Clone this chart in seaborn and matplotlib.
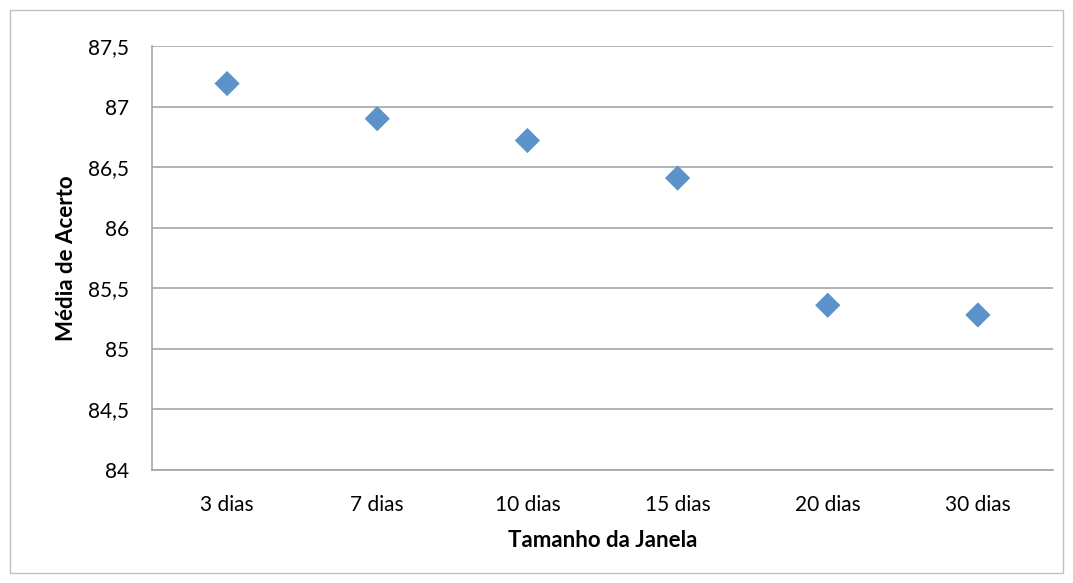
import matplotlib
matplotlib.use("Agg")
import matplotlib.pyplot as plt
from matplotlib.patches import Rectangle
from matplotlib.ticker import FixedLocator, FuncFormatter
import seaborn as sns
import pandas as pd

# Average accuracy by window size
janelas = ["3 dias", "7 dias", "10 dias", "15 dias", "20 dias", "30 dias"]
media_acerto = [87.19, 86.90, 86.72, 86.41, 85.36, 85.28]
y_ticks = [84, 84.5, 85, 85.5, 86, 86.5, 87, 87.5]

df = pd.DataFrame({"Janela": janelas, "Media": media_acerto})

sns.set_theme(style="white")
plt.rcParams["font.family"] = ["Lato", "DejaVu Sans"]

fig = plt.figure(figsize=(10.73, 5.83), dpi=100)
ax = fig.add_axes([152 / 1073, 113 / 583, 901 / 1073, 424 / 583])

grid_col = "#A6A6A6"
text_col = "#000000"

sns.scatterplot(data=df, x="Janela", y="Media", ax=ax, marker="D", s=165,
                color="#5B92C9", edgecolor="none", zorder=3)

ax.set_xlim(-0.5, len(janelas) - 0.5)
ax.set_ylim(y_ticks[0], y_ticks[-1])

ax.yaxis.set_major_locator(FixedLocator(y_ticks))
ax.yaxis.set_major_formatter(FuncFormatter(lambda v, p: f"{v:g}".replace(".", ",")))
ax.grid(axis="y", color=grid_col, linewidth=1.2, zorder=0)
ax.grid(axis="x", visible=False)

# category tick marks sit between categories
ax.set_xticks(range(len(janelas)))
ax.set_xticklabels(janelas)
ax.set_xticks([i - 0.5 for i in range(len(janelas) + 1)], minor=True)
ax.tick_params(axis="x", which="major", length=0, pad=18, labelsize=15, labelcolor=text_col)
ax.tick_params(axis="x", which="minor", length=6.5, width=1.2, color=grid_col, direction="out")
ax.tick_params(axis="y", which="major", length=6.5, width=1.2, color=grid_col, direction="out",
               pad=10, labelsize=15, labelcolor=text_col)

for side in ["top", "right"]:
    ax.spines[side].set_visible(False)
for side in ["left", "bottom"]:
    ax.spines[side].set_color(grid_col)
    ax.spines[side].set_linewidth(1.2)

ax.set_xlabel("Tamanho da Janela", fontsize=16, fontweight="bold", labelpad=11, color=text_col)
ax.set_ylabel("Média de Acerto", fontsize=16, fontweight="bold", labelpad=8, color=text_col)

# chart area border
fig.patches.append(Rectangle((10 / 1073, 10 / 583), 1053 / 1073, 563 / 583,
                             transform=fig.transFigure, fill=False,
                             edgecolor="#BFBFBF", linewidth=1.0))

fig.savefig("out.png", dpi=100)
